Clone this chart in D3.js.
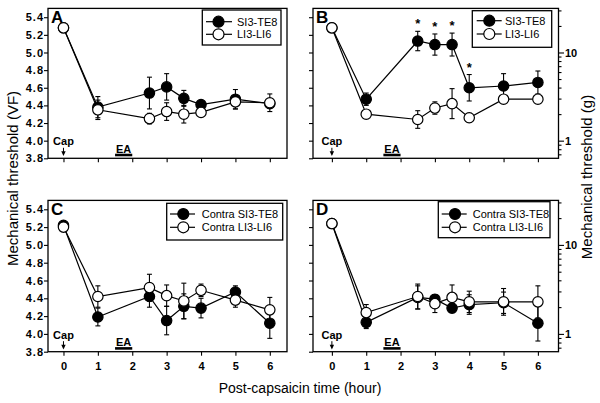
<!DOCTYPE html>
<html><head><meta charset="utf-8">
<script src="https://cdn.jsdelivr.net/npm/d3@7"></script>
<style>
html,body{margin:0;padding:0;background:#fff;}
svg{display:block;font-family:Arial,"Liberation Sans",sans-serif;}
</style></head>
<body>
<svg id="chart" width="600" height="403"></svg>
<script>
// ---------- data ----------
const hours = [0, 1, 2.5, 3, 3.5, 4, 5, 6];
const xTickValues = [0, 1, 2, 3, 4, 5, 6];
const vfTickValues = [3.8, 4.0, 4.2, 4.4, 4.6, 4.8, 5.0, 5.2, 5.4];
const gMajorTicks = [1, 10];
const gMinorTicks = [0.7, 0.8, 0.9, 2, 3, 4, 5, 6, 7, 8, 9, 20, 30];

const panelLetters = ["A", "B", "C", "D"];
const seriesNamesTop = ["SI3-TE8", "LI3-LI6"];
const seriesNamesBottom = ["Contra SI3-TE8", "Contra LI3-LI6"];

const aFilledMean = [5.28, 4.38, 4.54, 4.61, 4.48, 4.41, 4.47, 4.42];
const aFilledSem  = [0.02, 0.12, 0.18, 0.15, 0.09, 0.03, 0.11, 0.05];
const aOpenMean   = [5.28, 4.35, 4.25, 4.33, 4.30, 4.32, 4.44, 4.43];
const aOpenSem    = [0.02, 0.11, 0.06, 0.10, 0.10, 0.03, 0.08, 0.10];

const bFilledMean = [5.28, 4.47, 5.13, 5.09, 5.09, 4.60, 4.62, 4.66];
const bFilledSem  = [0.02, 0.07, 0.11, 0.12, 0.13, 0.15, 0.14, 0.13];
const bOpenMean   = [5.28, 4.30, 4.24, 4.37, 4.42, 4.26, 4.47, 4.47];
const bOpenSem    = [0.02, 0.03, 0.10, 0.07, 0.17, 0.05, 0.03, 0.03];
const bSignificant = [false, false, true, true, true, true, false, false];

const cFilledMean = [5.22, 4.19, 4.42, 4.15, 4.31, 4.29, 4.47, 4.12];
const cFilledSem  = [0.03, 0.10, 0.12, 0.16, 0.14, 0.11, 0.07, 0.17];
const cOpenMean   = [5.20, 4.42, 4.52, 4.43, 4.37, 4.49, 4.38, 4.27];
const cOpenSem    = [0.03, 0.12, 0.15, 0.12, 0.20, 0.07, 0.08, 0.14];

const dFilledMean = [5.24, 4.13, 4.41, 4.39, 4.29, 4.33, 4.35, 4.12];
const dFilledSem  = [0.02, 0.07, 0.13, 0.05, 0.05, 0.11, 0.12, 0.20];
const dOpenMean   = [5.24, 4.24, 4.42, 4.34, 4.41, 4.36, 4.36, 4.36];
const dOpenSem    = [0.02, 0.09, 0.14, 0.10, 0.14, 0.12, 0.15, 0.18];

const capHour = 0;
const eaHours = [1.5, 2.0];

// ---------- layout ----------
const layout = [
  {x0: 48,  x1: 287,   yTop: 8.4,   yBot: 158.3, xdom: [-0.45, 6.5], leftLabels: true,  right: false, xLabels: false,
   legend: {x: 202.3, y: 10,    w: 78.7,  h: 35,   lx0: 206,   lx1: 232,   mx: 218.5, tx: 237,   r1: 21.7, r2: 34.3}},
  {x0: 313, x1: 558.5, yTop: 8.4,   yBot: 158.3, xdom: [-0.55, 6.6], leftLabels: false, right: true,  xLabels: false,
   legend: {x: 472.3, y: 10.7,  w: 79.4,  h: 36.6, lx0: 476.7, lx1: 501.7, mx: 489.3, tx: 505,   r1: 20.7, r2: 34}},
  {x0: 48,  x1: 287,   yTop: 200.4, yBot: 351.7, xdom: [-0.45, 6.5], leftLabels: true,  right: false, xLabels: true,
   legend: {x: 166.7, y: 203.3, w: 116,   h: 36.7, lx0: 170,   lx1: 195,   mx: 183.3, tx: 201.7, r1: 214, r2: 227.3}},
  {x0: 313, x1: 558.5, yTop: 200.4, yBot: 351.7, xdom: [-0.55, 6.6], leftLabels: false, right: true,  xLabels: true,
   legend: {x: 438.3, y: 201.7, w: 111.7, h: 36,   lx0: 441.7, lx1: 466.7, mx: 455,   tx: 472.7, r1: 214, r2: 227.3}}
];

const panelData = [
  {filled: [aFilledMean, aFilledSem], open: [aOpenMean, aOpenSem], names: seriesNamesTop, sig: null},
  {filled: [bFilledMean, bFilledSem], open: [bOpenMean, bOpenSem], names: seriesNamesTop, sig: bSignificant},
  {filled: [cFilledMean, cFilledSem], open: [cOpenMean, cOpenSem], names: seriesNamesBottom, sig: null},
  {filled: [dFilledMean, dFilledSem], open: [dOpenMean, dOpenSem], names: seriesNamesBottom, sig: null}
];

const R = 5.2, SW = 1.2, FONT = 'Arial,"Liberation Sans",sans-serif';
const svg = d3.select("#chart");

layout.forEach((L, i) => {
  const P = panelData[i];
  const x = d3.scaleLinear().domain(L.xdom).range([L.x0, L.x1]);
  const y = d3.scaleLinear().domain([3.8, 5.5]).range([L.yBot, L.yTop]);
  const g = svg.append("g");

  // axes
  const ax = g.append("g").attr("transform", `translate(${L.x0},0)`)
    .call(d3.axisLeft(y).tickValues(vfTickValues).tickSize(4).tickPadding(0)
      .tickFormat(L.leftLabels ? d3.format(".1f") : () => ""));
  const bx = g.append("g").attr("transform", `translate(0,${L.yBot})`)
    .call(d3.axisBottom(x).tickValues(xTickValues).tickSize(4).tickPadding(7)
      .tickFormat(L.xLabels ? d3.format("d") : () => ""));
  [ax, bx].forEach(a => {
    a.select(".domain").remove();
    a.selectAll("line").attr("stroke", "#000").attr("stroke-width", 1.1);
    a.selectAll("text").attr("font-family", FONT).attr("font-weight", "bold")
      .attr("font-size", 11).attr("fill", "#000");
  });
  ax.selectAll("text").attr("letter-spacing", 1);

  if (L.right) {
    const gy = d3.scaleLog().domain([Math.pow(10, 3.8 - 4), Math.pow(10, 5.5 - 4)]).range([L.yBot, L.yTop]);
    const rMaj = g.append("g").attr("transform", `translate(${L.x1},0)`)
      .call(d3.axisRight(gy).tickValues(gMajorTicks).tickSize(5.5).tickPadding(1).tickFormat(d3.format("d")));
    const rMin = g.append("g").attr("transform", `translate(${L.x1},0)`)
      .call(d3.axisRight(gy).tickValues(gMinorTicks).tickSize(3).tickFormat(() => ""));
    [rMaj, rMin].forEach(a => {
      a.select(".domain").remove();
      a.selectAll("line").attr("stroke", "#000").attr("stroke-width", 1.1);
      a.selectAll("text").attr("font-family", FONT).attr("font-weight", "bold")
        .attr("font-size", 11).attr("fill", "#000");
    });
  }

  // frame
  g.append("rect").attr("x", L.x0).attr("y", L.yTop)
    .attr("width", L.x1 - L.x0).attr("height", L.yBot - L.yTop)
    .attr("fill", "none").attr("stroke", "#000").attr("stroke-width", 1.3);

  // panel letter
  g.append("text").attr("x", L.x0 + 3).attr("y", L.yTop + 14.5)
    .attr("font-family", FONT).attr("font-weight", "bold").attr("font-size", 17).text(panelLetters[i]);

  // Cap arrow and text
  const cx = x(capHour);
  g.append("text").attr("x", cx).attr("y", L.yBot - 13).attr("text-anchor", "middle")
    .attr("font-family", FONT).attr("font-weight", "bold").attr("font-size", 11).text("Cap");
  g.append("line").attr("x1", cx).attr("x2", cx).attr("y1", L.yBot - 10.5).attr("y2", L.yBot - 4)
    .attr("stroke", "#000").attr("stroke-width", 1);
  g.append("path").attr("d", `M${cx - 2.2},${L.yBot - 7} L${cx + 2.2},${L.yBot - 7} L${cx},${L.yBot - 2.3} Z`)
    .attr("fill", "#000");

  // EA bar and text
  g.append("text").attr("x", x((eaHours[0] + eaHours[1]) / 2)).attr("y", L.yBot - 5.5).attr("text-anchor", "middle")
    .attr("font-family", FONT).attr("font-weight", "bold").attr("font-size", 11).text("EA");
  g.append("line").attr("x1", x(eaHours[0])).attr("x2", x(eaHours[1]))
    .attr("y1", L.yBot - 3.3).attr("y2", L.yBot - 3.3).attr("stroke", "#000").attr("stroke-width", 2.6);

  // series
  const drawSeries = (ms, fill) => {
    const [mean, sem] = ms;
    const pts = hours.map((h, k) => ({h, m: mean[k], s: sem[k]}));
    const eb = g.append("g").attr("stroke", "#000").attr("stroke-width", 1.1);
    pts.forEach(p => {
      const px = x(p.h), yt = y(p.m + p.s), yb = y(p.m - p.s);
      eb.append("line").attr("x1", px).attr("x2", px).attr("y1", yt).attr("y2", yb);
      eb.append("line").attr("x1", px - 2.5).attr("x2", px + 2.5).attr("y1", yt).attr("y2", yt);
      eb.append("line").attr("x1", px - 2.5).attr("x2", px + 2.5).attr("y1", yb).attr("y2", yb);
    });
    g.append("path").datum(pts)
      .attr("d", d3.line().x(p => x(p.h)).y(p => y(p.m)))
      .attr("fill", "none").attr("stroke", "#000").attr("stroke-width", SW);
    g.append("g").selectAll("circle").data(pts).join("circle")
      .attr("cx", p => x(p.h)).attr("cy", p => y(p.m)).attr("r", R)
      .attr("fill", fill).attr("stroke", "#000").attr("stroke-width", SW);
  };
  drawSeries(P.filled, "#000");
  drawSeries(P.open, "#fff");

  // significance asterisks
  if (P.sig) {
    const [mean, sem] = P.filled;
    hours.forEach((h, k) => {
      if (!P.sig[k]) return;
      g.append("text").attr("x", x(h)).attr("y", y(mean[k] + sem[k]) - 3).attr("text-anchor", "middle")
        .attr("font-family", FONT).attr("font-weight", "bold").attr("font-size", 13).text("*");
    });
  }

  // legend
  const Lg = L.legend;
  g.append("rect").attr("x", Lg.x).attr("y", Lg.y).attr("width", Lg.w).attr("height", Lg.h)
    .attr("fill", "#fff").attr("stroke", "#000").attr("stroke-width", 1.3);
  [[Lg.r1, "#000", P.names[0]], [Lg.r2, "#fff", P.names[1]]].forEach(([ry, f, name]) => {
    g.append("line").attr("x1", Lg.lx0).attr("x2", Lg.lx1).attr("y1", ry).attr("y2", ry)
      .attr("stroke", "#000").attr("stroke-width", SW);
    g.append("circle").attr("cx", Lg.mx).attr("cy", ry).attr("r", R + 0.3)
      .attr("fill", f).attr("stroke", "#000").attr("stroke-width", SW);
    g.append("text").attr("x", Lg.tx).attr("y", ry + 4).attr("font-family", FONT)
      .attr("font-size", 11).text(name);
  });
});

// axis titles
svg.append("text").attr("transform", "translate(18,178.5) rotate(-90)").attr("text-anchor", "middle")
  .attr("font-family", FONT).attr("font-size", 15).text("Mechanical threshold (VF)");
svg.append("text").attr("transform", "translate(592,177) rotate(-90)").attr("text-anchor", "middle")
  .attr("font-family", FONT).attr("font-size", 15).text("Mechanical threshold (g)");
svg.append("text").attr("x", 300).attr("y", 393).attr("text-anchor", "middle")
  .attr("font-family", FONT).attr("font-size", 14).text("Post-capsaicin time (hour)");
</script>
</body></html>
